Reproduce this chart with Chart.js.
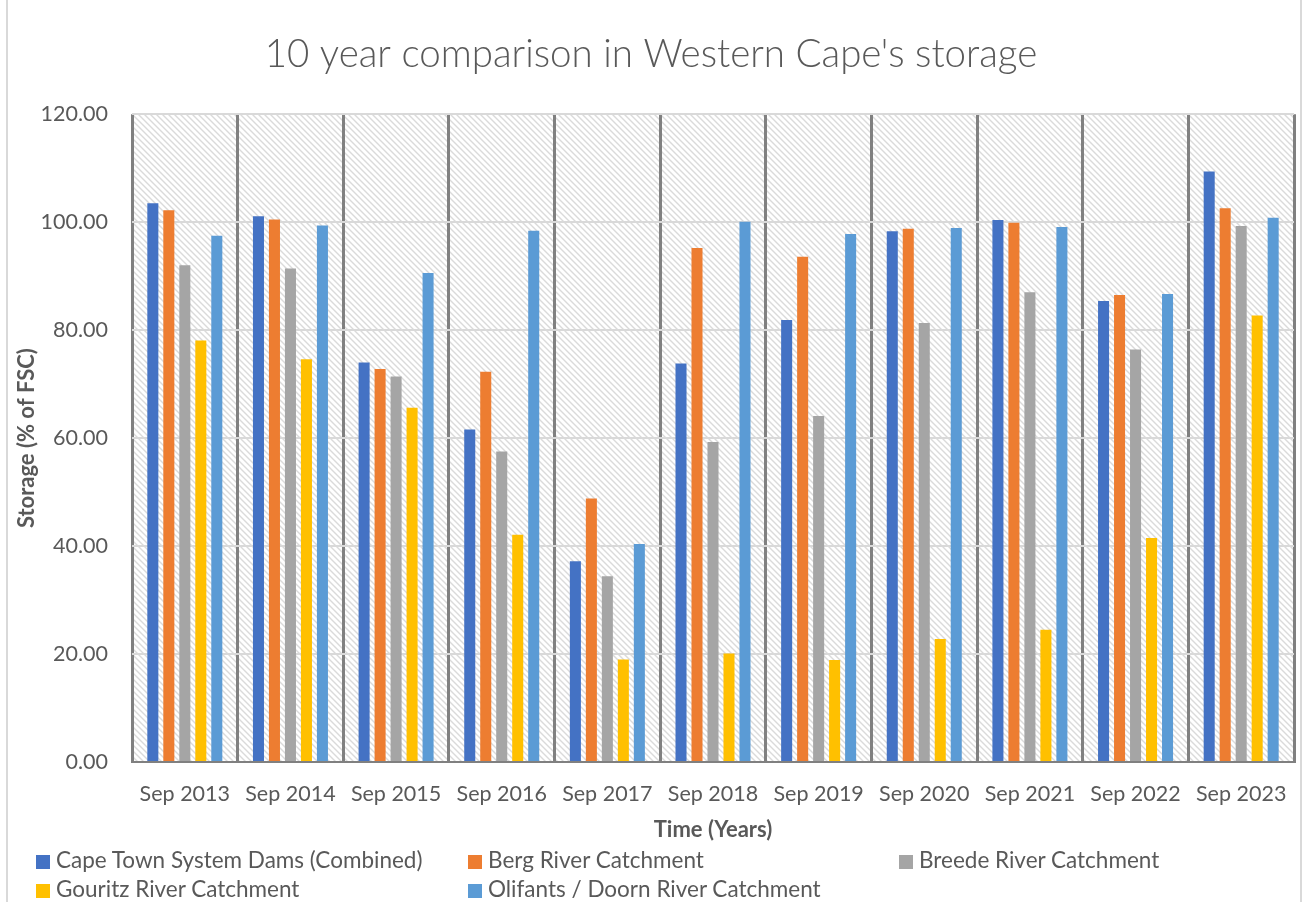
<!DOCTYPE html>
<html>
<head>
<meta charset="utf-8">
<script src="https://cdn.jsdelivr.net/npm/chart.js@4.4.1/dist/chart.umd.min.js"></script>
<style>
  html, body { margin: 0; padding: 0; background: #fff; }
  #wrap { position: relative; width: 1306px; height: 902px; overflow: hidden; }
  #frame { position: absolute; left: 6px; top: -4px; width: 1292px; height: 920px;
           border-left: 2px solid #d9d9d9; border-right: 2px solid #d9d9d9; }
  #myBarChart { position: absolute; left: 0; top: 0; }
  #legend { position: absolute; left: 0; top: 846px; width: 1306px; height: 56px;
            font-family: Lato, "Liberation Sans", sans-serif; font-size: 22.5px; color: #595959; }
  .item { position: absolute; white-space: nowrap; line-height: 28px; }
  .item i { display: inline-block; width: 14px; height: 14px; margin-right: 6px; vertical-align: -1px; }
</style>
</head>
<body>
<div id="wrap">
  <div id="frame"></div>
  <canvas id="myBarChart" width="1306" height="902"></canvas>
  <div id="legend"></div>
</div>
<script>
  var years = ['Sep 2013', 'Sep 2014', 'Sep 2015', 'Sep 2016', 'Sep 2017', 'Sep 2018',
               'Sep 2019', 'Sep 2020', 'Sep 2021', 'Sep 2022', 'Sep 2023'];
  var capeTown = [103.5, 101.1, 74.0, 61.6, 37.2, 73.8, 81.9, 98.3, 100.4, 85.4, 109.4];
  var berg     = [102.2, 100.5, 72.8, 72.3, 48.8, 95.2, 93.6, 98.8, 99.9, 86.5, 102.6];
  var breede   = [92.0, 91.4, 71.4, 57.5, 34.4, 59.3, 64.1, 81.3, 87.0, 76.4, 99.3];
  var gouritz  = [78.1, 74.6, 65.6, 42.1, 19.0, 20.1, 18.9, 22.8, 24.5, 41.5, 82.7];
  var olifants = [97.5, 99.4, 90.6, 98.4, 40.4, 100.1, 97.8, 98.9, 99.1, 86.7, 100.8];
  var yTickValues = [0, 20, 40, 60, 80, 100, 120];

  var seriesNames = ['Cape Town System Dams (Combined)', 'Berg River Catchment', 'Breede River Catchment',
                     'Gouritz River Catchment', 'Olifants / Doorn River Catchment'];
  var seriesData = [capeTown, berg, breede, gouritz, olifants];
  var colors = ['#4472C4', '#ED7D31', '#A5A5A5', '#FFC000', '#5B9BD5'];

  // diagonal hatch for the plot area
  var tile = document.createElement('canvas');
  tile.width = 6; tile.height = 6;
  var tc = tile.getContext('2d');
  tc.fillStyle = '#ffffff';
  tc.fillRect(0, 0, 6, 6);
  tc.strokeStyle = '#dadada';
  tc.lineWidth = 1.4;
  tc.beginPath();
  tc.moveTo(-1, -1); tc.lineTo(7, 7);
  tc.moveTo(-4, 2); tc.lineTo(4, 10);
  tc.moveTo(2, -4); tc.lineTo(10, 4);
  tc.stroke();

  var hatchPlugin = {
      id: 'hatch',
      beforeDraw: function(chart) {
          var a = chart.chartArea, c = chart.ctx;
          c.save();
          c.fillStyle = c.createPattern(tile, 'repeat');
          c.fillRect(a.left, a.top, a.right - a.left, a.bottom - a.top);
          c.restore();
      }
  };

  var fontFamily = 'Lato, "Liberation Sans", sans-serif';
  var ctxBar = document.getElementById('myBarChart').getContext('2d');
  var barChart = new Chart(ctxBar, {
      type: 'bar',
      data: {
          labels: years,
          datasets: seriesNames.map(function(name, i) {
              return {
                  label: name,
                  data: seriesData[i],
                  backgroundColor: colors[i],
                  borderWidth: 0,
                  categoryPercentage: 0.757,
                  barPercentage: 0.69
              };
          })
      },
      options: {
          responsive: false,
          animation: false,
          layout: { padding: { left: 8, right: 12, top: 0, bottom: 0 } },
          plugins: {
              legend: { display: false },
              tooltip: { enabled: false },
              title: {
                  display: true,
                  text: "10 year comparison in Western Cape's storage",
                  color: '#595959',
                  font: { family: fontFamily, size: 38.5, weight: '300' },
                  padding: { top: 31, bottom: 37 }
              }
          },
          scales: {
              x: {
                  afterFit: function(scale) { scale.height = 140; },
                  grid: { offset: true, color: '#808080', lineWidth: 3, drawTicks: false },
                  border: { display: true, color: '#808080', width: 2 },
                  ticks: { color: '#595959', font: { family: fontFamily, size: 21.5 }, padding: 19, maxRotation: 0 },
                  title: {
                      display: true, text: 'Time (Years)', color: '#595959',
                      font: { family: fontFamily, size: 22, weight: 'bold' },
                      padding: { top: 0, bottom: 59 }
                  }
              },
              y: {
                  min: 0, max: 120,
                  afterFit: function(scale) { scale.width = 124; },
                  afterBuildTicks: function(scale) {
                      scale.ticks = yTickValues.map(function(v) { return { value: v }; });
                  },
                  grid: { color: '#d9d9d9', lineWidth: 2, drawTicks: false },
                  border: { display: false },
                  ticks: {
                      color: '#595959', font: { family: fontFamily, size: 21.5 }, padding: 24,
                      callback: function(v) { return Number(v).toFixed(2); }
                  },
                  title: {
                      display: true, text: 'Storage (% of FSC)', color: '#595959',
                      font: { family: fontFamily, size: 22, weight: 'bold' },
                      padding: { top: 6, bottom: 0 }
                  }
              }
          }
      },
      plugins: [hatchPlugin]
  });

  // legend laid out in three columns like the original
  var legendPos = [[36, 0], [468, 0], [899, 0], [36, 29], [468, 29]];
  var legend = document.getElementById('legend');
  barChart.data.datasets.forEach(function(ds, i) {
      var item = document.createElement('div');
      item.className = 'item';
      item.style.left = legendPos[i][0] + 'px';
      item.style.top = legendPos[i][1] + 'px';
      item.innerHTML = '<i style="background:' + ds.backgroundColor + '"></i>' + ds.label;
      legend.appendChild(item);
  });
</script>
</body>
</html>
